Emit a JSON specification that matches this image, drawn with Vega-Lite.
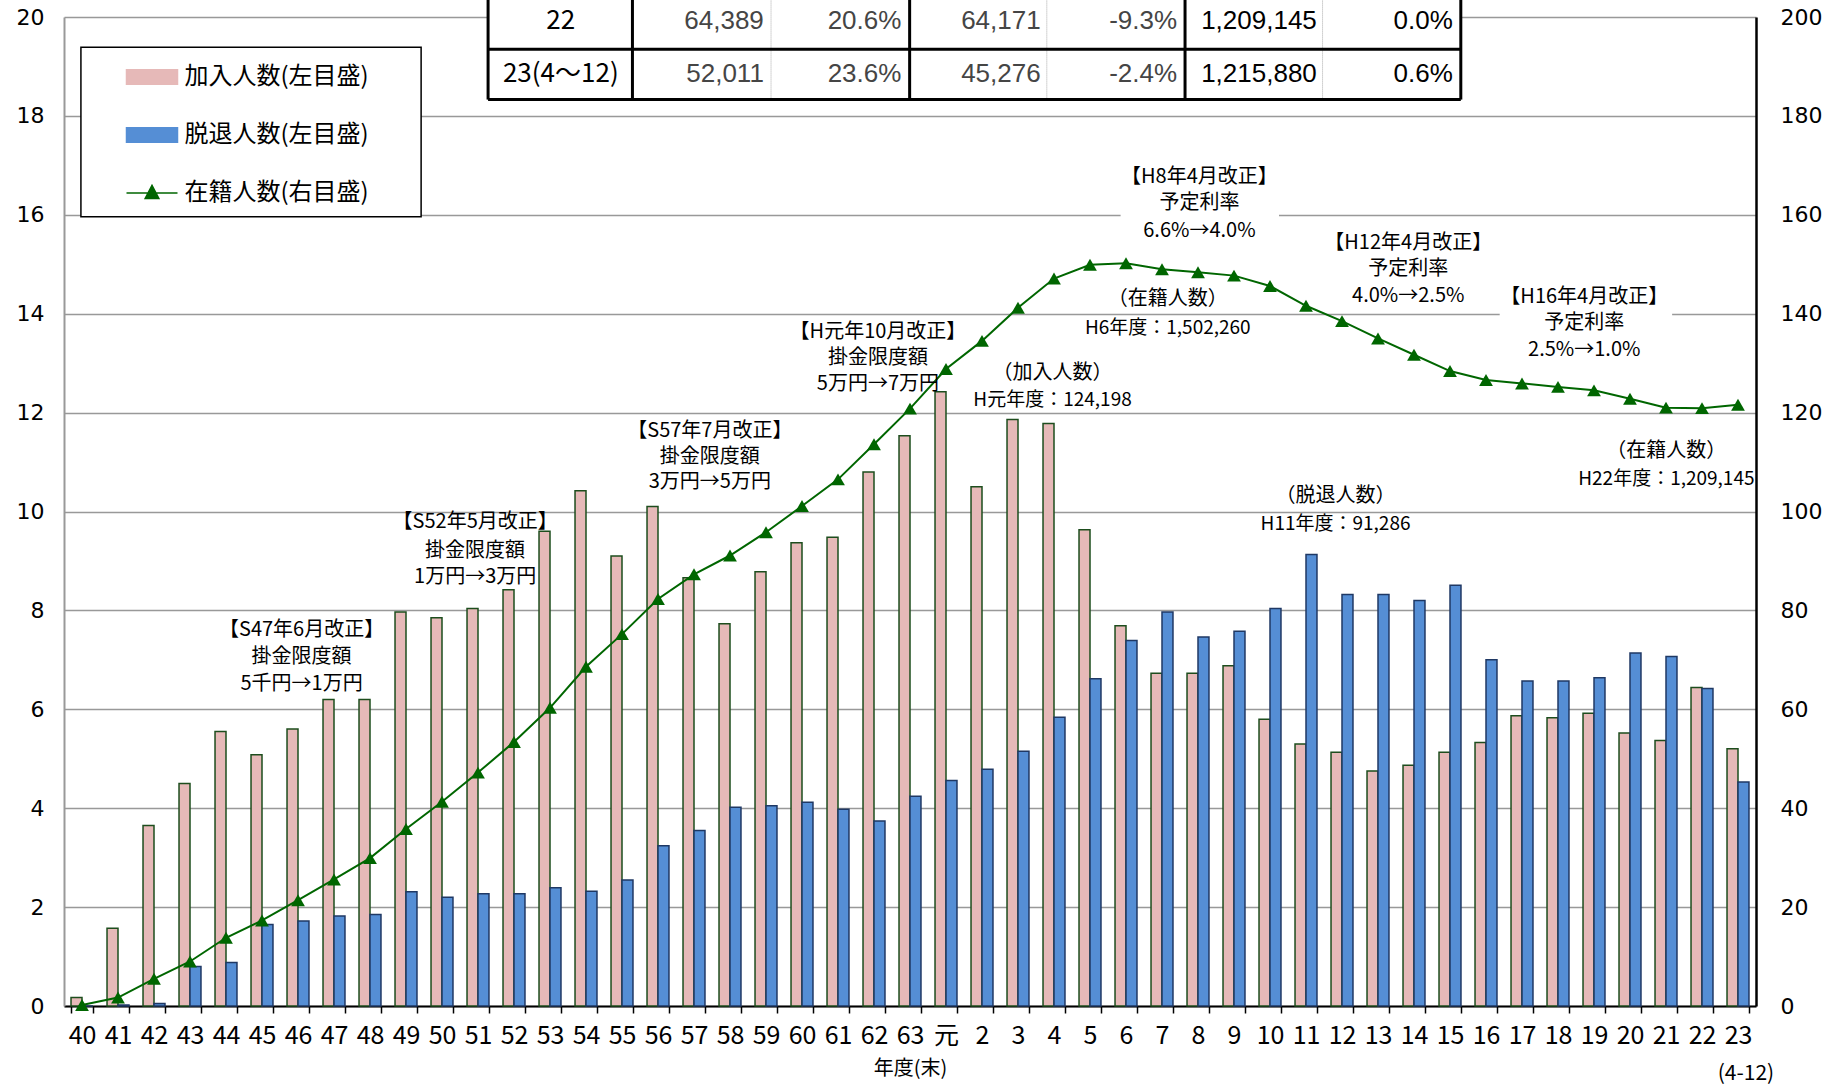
{
 "$schema": "https://vega.github.io/schema/vega-lite/v6.json",
 "width": 1692,
 "height": 989,
 "autosize": {"type": "none"},
 "padding": {"left": 64, "top": 17, "right": 84, "bottom": 80},
 "background": "white",
 "config": {"view": {"stroke": null}, "axis": {"labelFlush": false, "labelOverlap": false}},
 "datasets": {
  "flows": [
   {"year":"40","series":"加入人数(左目盛)","value":0.17},{"year":"41","series":"加入人数(左目盛)","value":1.57},{"year":"42","series":"加入人数(左目盛)","value":3.65},{"year":"43","series":"加入人数(左目盛)","value":4.50},{"year":"44","series":"加入人数(左目盛)","value":5.55},{"year":"45","series":"加入人数(左目盛)","value":5.08},{"year":"46","series":"加入人数(左目盛)","value":5.60},{"year":"47","series":"加入人数(左目盛)","value":6.20},{"year":"48","series":"加入人数(左目盛)","value":6.20},{"year":"49","series":"加入人数(左目盛)","value":7.97},{"year":"50","series":"加入人数(左目盛)","value":7.85},{"year":"51","series":"加入人数(左目盛)","value":8.04},{"year":"52","series":"加入人数(左目盛)","value":8.42},{"year":"53","series":"加入人数(左目盛)","value":9.60},{"year":"54","series":"加入人数(左目盛)","value":10.42},{"year":"55","series":"加入人数(左目盛)","value":9.10},{"year":"56","series":"加入人数(左目盛)","value":10.10},{"year":"57","series":"加入人数(左目盛)","value":8.66},{"year":"58","series":"加入人数(左目盛)","value":7.73},{"year":"59","series":"加入人数(左目盛)","value":8.78},{"year":"60","series":"加入人数(左目盛)","value":9.37},{"year":"61","series":"加入人数(左目盛)","value":9.48},{"year":"62","series":"加入人数(左目盛)","value":10.80},{"year":"63","series":"加入人数(左目盛)","value":11.53},{"year":"元","series":"加入人数(左目盛)","value":12.42},{"year":"2","series":"加入人数(左目盛)","value":10.50},{"year":"3","series":"加入人数(左目盛)","value":11.86},{"year":"4","series":"加入人数(左目盛)","value":11.78},{"year":"5","series":"加入人数(左目盛)","value":9.63},{"year":"6","series":"加入人数(左目盛)","value":7.69},{"year":"7","series":"加入人数(左目盛)","value":6.73},{"year":"8","series":"加入人数(左目盛)","value":6.73},{"year":"9","series":"加入人数(左目盛)","value":6.88},{"year":"10","series":"加入人数(左目盛)","value":5.80},{"year":"11","series":"加入人数(左目盛)","value":5.30},{"year":"12","series":"加入人数(左目盛)","value":5.13},{"year":"13","series":"加入人数(左目盛)","value":4.75},{"year":"14","series":"加入人数(左目盛)","value":4.87},{"year":"15","series":"加入人数(左目盛)","value":5.13},{"year":"16","series":"加入人数(左目盛)","value":5.33},{"year":"17","series":"加入人数(左目盛)","value":5.87},{"year":"18","series":"加入人数(左目盛)","value":5.83},{"year":"19","series":"加入人数(左目盛)","value":5.92},{"year":"20","series":"加入人数(左目盛)","value":5.52},{"year":"21","series":"加入人数(左目盛)","value":5.37},{"year":"22","series":"加入人数(左目盛)","value":6.44},{"year":"23","series":"加入人数(左目盛)","value":5.20},
   {"year":"40","series":"脱退人数(左目盛)","value":0},{"year":"41","series":"脱退人数(左目盛)","value":0.02},{"year":"42","series":"脱退人数(左目盛)","value":0.05},{"year":"43","series":"脱退人数(左目盛)","value":0.80},{"year":"44","series":"脱退人数(左目盛)","value":0.88},{"year":"45","series":"脱退人数(左目盛)","value":1.65},{"year":"46","series":"脱退人数(左目盛)","value":1.72},{"year":"47","series":"脱退人数(左目盛)","value":1.82},{"year":"48","series":"脱退人数(左目盛)","value":1.85},{"year":"49","series":"脱退人数(左目盛)","value":2.31},{"year":"50","series":"脱退人数(左目盛)","value":2.20},{"year":"51","series":"脱退人数(左目盛)","value":2.27},{"year":"52","series":"脱退人数(左目盛)","value":2.27},{"year":"53","series":"脱退人数(左目盛)","value":2.39},{"year":"54","series":"脱退人数(左目盛)","value":2.32},{"year":"55","series":"脱退人数(左目盛)","value":2.55},{"year":"56","series":"脱退人数(左目盛)","value":3.24},{"year":"57","series":"脱退人数(左目盛)","value":3.55},{"year":"58","series":"脱退人数(左目盛)","value":4.02},{"year":"59","series":"脱退人数(左目盛)","value":4.05},{"year":"60","series":"脱退人数(左目盛)","value":4.12},{"year":"61","series":"脱退人数(左目盛)","value":3.98},{"year":"62","series":"脱退人数(左目盛)","value":3.74},{"year":"63","series":"脱退人数(左目盛)","value":4.24},{"year":"元","series":"脱退人数(左目盛)","value":4.56},{"year":"2","series":"脱退人数(左目盛)","value":4.79},{"year":"3","series":"脱退人数(左目盛)","value":5.15},{"year":"4","series":"脱退人数(左目盛)","value":5.84},{"year":"5","series":"脱退人数(左目盛)","value":6.62},{"year":"6","series":"脱退人数(左目盛)","value":7.39},{"year":"7","series":"脱退人数(左目盛)","value":7.97},{"year":"8","series":"脱退人数(左目盛)","value":7.46},{"year":"9","series":"脱退人数(左目盛)","value":7.58},{"year":"10","series":"脱退人数(左目盛)","value":8.04},{"year":"11","series":"脱退人数(左目盛)","value":9.13},{"year":"12","series":"脱退人数(左目盛)","value":8.32},{"year":"13","series":"脱退人数(左目盛)","value":8.32},{"year":"14","series":"脱退人数(左目盛)","value":8.20},{"year":"15","series":"脱退人数(左目盛)","value":8.51},{"year":"16","series":"脱退人数(左目盛)","value":7.00},{"year":"17","series":"脱退人数(左目盛)","value":6.57},{"year":"18","series":"脱退人数(左目盛)","value":6.57},{"year":"19","series":"脱退人数(左目盛)","value":6.64},{"year":"20","series":"脱退人数(左目盛)","value":7.14},{"year":"21","series":"脱退人数(左目盛)","value":7.07},{"year":"22","series":"脱退人数(左目盛)","value":6.42},{"year":"23","series":"脱退人数(左目盛)","value":4.53}
  ],
  "stock": [
   {"year":"40","series":"在籍人数(右目盛)","value":0.2},{"year":"41","series":"在籍人数(右目盛)","value":1.7},{"year":"42","series":"在籍人数(右目盛)","value":5.5},{"year":"43","series":"在籍人数(右目盛)","value":9.0},{"year":"44","series":"在籍人数(右目盛)","value":13.8},{"year":"45","series":"在籍人数(右目盛)","value":17.3},{"year":"46","series":"在籍人数(右目盛)","value":21.4},{"year":"47","series":"在籍人数(右目盛)","value":25.6},{"year":"48","series":"在籍人数(右目盛)","value":29.9},{"year":"49","series":"在籍人数(右目盛)","value":35.8},{"year":"50","series":"在籍人数(右目盛)","value":41.3},{"year":"51","series":"在籍人数(右目盛)","value":47.2},{"year":"52","series":"在籍人数(右目盛)","value":53.4},{"year":"53","series":"在籍人数(右目盛)","value":60.3},{"year":"54","series":"在籍人数(右目盛)","value":68.6},{"year":"55","series":"在籍人数(右目盛)","value":75.2},{"year":"56","series":"在籍人数(右目盛)","value":82.3},{"year":"57","series":"在籍人数(右目盛)","value":87.3},{"year":"58","series":"在籍人数(右目盛)","value":91.1},{"year":"59","series":"在籍人数(右目盛)","value":95.8},{"year":"60","series":"在籍人数(右目盛)","value":101.1},{"year":"61","series":"在籍人数(右目盛)","value":106.5},{"year":"62","series":"在籍人数(右目盛)","value":113.6},{"year":"63","series":"在籍人数(右目盛)","value":120.8},{"year":"元","series":"在籍人数(右目盛)","value":128.8},{"year":"2","series":"在籍人数(右目盛)","value":134.5},{"year":"3","series":"在籍人数(右目盛)","value":141.2},{"year":"4","series":"在籍人数(右目盛)","value":147.1},{"year":"5","series":"在籍人数(右目盛)","value":149.9},{"year":"6","series":"在籍人数(右目盛)","value":150.2},{"year":"7","series":"在籍人数(右目盛)","value":149.0},{"year":"8","series":"在籍人数(右目盛)","value":148.4},{"year":"9","series":"在籍人数(右目盛)","value":147.7},{"year":"10","series":"在籍人数(右目盛)","value":145.6},{"year":"11","series":"在籍人数(右目盛)","value":141.6},{"year":"12","series":"在籍人数(右目盛)","value":138.5},{"year":"13","series":"在籍人数(右目盛)","value":135.0},{"year":"14","series":"在籍人数(右目盛)","value":131.7},{"year":"15","series":"在籍人数(右目盛)","value":128.4},{"year":"16","series":"在籍人数(右目盛)","value":126.6},{"year":"17","series":"在籍人数(右目盛)","value":125.9},{"year":"18","series":"在籍人数(右目盛)","value":125.2},{"year":"19","series":"在籍人数(右目盛)","value":124.5},{"year":"20","series":"在籍人数(右目盛)","value":122.8},{"year":"21","series":"在籍人数(右目盛)","value":121.0},{"year":"22","series":"在籍人数(右目盛)","value":120.9},{"year":"23","series":"在籍人数(右目盛)","value":121.6}
  ],
  "boxes": [
   {"px":11.78,"px2":38.8,"py":20.8,"py2":18.33},
   {"px":29.35,"px2":33.75,"py":17.02,"py2":15.43},
   {"px":39.88,"px2":44.67,"py":14.6,"py2":12.98}
  ],
  "legendbox": [{"px":0.47,"px2":9.92,"py":19.39,"py2":15.96}],
  "tlines": [
   {"line":"major","px":11.78,"px2":11.78,"py":20.8,"py2":18.33},
   {"line":"major","px":15.79,"px2":15.79,"py":20.8,"py2":18.33},
   {"line":"major","px":23.49,"px2":23.49,"py":20.8,"py2":18.33},
   {"line":"major","px":31.14,"px2":31.14,"py":20.8,"py2":18.33},
   {"line":"major","px":38.8,"px2":38.8,"py":20.8,"py2":18.33},
   {"line":"major","px":11.78,"px2":38.8,"py":19.35,"py2":19.35},
   {"line":"major","px":11.78,"px2":38.8,"py":18.33,"py2":18.33},
   {"line":"minor","px":19.64,"px2":19.64,"py":20.8,"py2":18.33},
   {"line":"minor","px":27.3,"px2":27.3,"py":20.8,"py2":18.33},
   {"line":"minor","px":34.96,"px2":34.96,"py":20.8,"py2":18.33}
  ],
  "ttext": [
   {"t":"22","col":1,"px":13.8,"py":19.92},
   {"t":"64,389","col":2,"px":19.44,"py":19.92},
   {"t":"20.6%","col":3,"px":23.26,"py":19.92},
   {"t":"64,171","col":4,"px":27.13,"py":19.92},
   {"t":"-9.3%","col":5,"px":30.92,"py":19.92},
   {"t":"1,209,145","col":6,"px":34.8,"py":19.92},
   {"t":"0.0%","col":7,"px":38.58,"py":19.92},
   {"t":"23(4～12)","col":1,"px":13.8,"py":18.85},
   {"t":"52,011","col":2,"px":19.44,"py":18.85},
   {"t":"23.6%","col":3,"px":23.26,"py":18.85},
   {"t":"45,276","col":4,"px":27.13,"py":18.85},
   {"t":"-2.4%","col":5,"px":30.92,"py":18.85},
   {"t":"1,215,880","col":6,"px":34.8,"py":18.85},
   {"t":"0.6%","col":7,"px":38.58,"py":18.85}
  ],
  "ann": [
   {"t":"【S47年6月改正】","px":6.60,"py":7.60},
   {"t":"掛金限度額","px":6.60,"py":7.05},
   {"t":"5千円→1万円","px":6.60,"py":6.51},
   {"t":"【S52年5月改正】","px":11.42,"py":9.78},
   {"t":"掛金限度額","px":11.42,"py":9.21},
   {"t":"1万円→3万円","px":11.42,"py":8.67},
   {"t":"【S57年7月改正】","px":17.94,"py":11.63},
   {"t":"掛金限度額","px":17.94,"py":11.11},
   {"t":"3万円→5万円","px":17.94,"py":10.59},
   {"t":"【H元年10月改正】","px":22.61,"py":13.63},
   {"t":"掛金限度額","px":22.61,"py":13.11},
   {"t":"5万円→7万円","px":22.61,"py":12.58},
   {"t":"（加入人数）","px":27.46,"py":12.80},
   {"t":"H元年度：124,198","px":27.46,"py":12.25},
   {"t":"（在籍人数）","px":30.66,"py":14.29},
   {"t":"H6年度：1,502,260","px":30.66,"py":13.72},
   {"t":"【H8年4月改正】","px":31.54,"py":16.76},
   {"t":"予定利率","px":31.54,"py":16.24},
   {"t":"6.6%→4.0%","px":31.54,"py":15.67},
   {"t":"【H12年4月改正】","px":37.34,"py":15.43},
   {"t":"予定利率","px":37.34,"py":14.91},
   {"t":"4.0%→2.5%","px":37.34,"py":14.36},
   {"t":"【H16年4月改正】","px":42.23,"py":14.34},
   {"t":"予定利率","px":42.23,"py":13.82},
   {"t":"2.5%→1.0%","px":42.23,"py":13.27},
   {"t":"（脱退人数）","px":35.32,"py":10.31},
   {"t":"H11年度：91,286","px":35.32,"py":9.74},
   {"t":"（在籍人数）","px":44.51,"py":11.23},
   {"t":"H22年度：1,209,145","px":44.51,"py":10.66}
  ],
  "note": [{"t":"(4-12)","px":46.72,"py":-1.375}]
 },
 "layer": [
  {
   "layer": [
    {
     "data": {"name": "flows"},
     "mark": {"type": "bar", "strokeWidth": 1.5},
     "encoding": {
      "x": {
       "field": "year", "type": "nominal",
       "scale": {"domain": ["40","41","42","43","44","45","46","47","48","49","50","51","52","53","54","55","56","57","58","59","60","61","62","63","元","2","3","4","5","6","7","8","9","10","11","12","13","14","15","16","17","18","19","20","21","22","23"], "paddingInner": 0.39, "paddingOuter": 0.195},
       "axis": {"title": "年度(末)", "titleFont": "Noto Sans CJK JP", "titleFontSize": 20, "titleFontWeight": "normal", "titleColor": "#000", "titlePadding": 10, "labelFont": "Liberation Sans Narrow, Arial Narrow, Noto Sans CJK JP, sans-serif", "labelFontSize": 25, "labelColor": "#000", "labelAngle": 0, "labelPadding": 10, "tickBand": "extent", "tickColor": "#000", "tickSize": 7, "tickWidth": 1.5, "domainColor": "#000", "domainWidth": 2, "grid": false}
      },
      "xOffset": {"field": "series", "type": "nominal", "scale": {"domain": ["加入人数(左目盛)", "脱退人数(左目盛)"], "paddingInner": 0, "paddingOuter": 0}},
      "y": {
       "field": "value", "type": "quantitative",
       "scale": {"domain": [0, 20], "nice": false, "zero": true},
       "axis": {"orient": "left", "title": null, "values": [0,2,4,6,8,10,12,14,16,18,20], "grid": true, "gridColor": "#999", "gridWidth": 1.5, "domainColor": "#999", "domainWidth": 2, "ticks": false, "labelPadding": 20, "labelFont": "DejaVu Sans", "labelFontSize": 22, "labelColor": "#000"}
      },
      "color": {
       "field": "series", "type": "nominal",
       "scale": {"domain": ["加入人数(左目盛)", "脱退人数(左目盛)", "在籍人数(右目盛)"], "range": ["#E6B9B8", "#558ED5", "#006600"]},
       "legend": {
        "title": null, "orient": "none", "legendX": 61.5, "legendY": 33.5, "padding": 0, "rowPadding": 19,
        "symbolSize": 2601, "symbolStrokeWidth": 1.5, "labelOffset": 6, "labelFont": "Noto Sans CJK JP", "labelFontSize": 24, "labelColor": "#000", "labelLimit": 400,
        "encode": {"symbols": {"update": {
         "shape": {"signal": "datum.value === '在籍人数(右目盛)' ? 'M-1,0H1M-0.27,0.22L0,-0.3L0.27,0.22Z' : 'M-1,-0.28H1V0.28H-1Z'"},
         "fill": {"signal": "datum.value === '加入人数(左目盛)' ? '#E6B9B8' : datum.value === '脱退人数(左目盛)' ? '#558ED5' : '#006600'"},
         "stroke": {"signal": "datum.value === '加入人数(左目盛)' ? '#1D4D1D' : datum.value === '脱退人数(左目盛)' ? '#1F3864' : '#006600'"},
         "strokeWidth": {"value": 1.5},
         "opacity": {"value": 1}
        }}}
       }
      },
      "stroke": {"field": "series", "type": "nominal", "scale": {"domain": ["加入人数(左目盛)", "脱退人数(左目盛)"], "range": ["#1D4D1D", "#1F3864"]}, "legend": null}
     }
    },
    {
     "data": {"name": "stock"},
     "mark": {"type": "line", "strokeWidth": 2, "point": {"shape": "triangle-up", "size": 190, "filled": true}},
     "encoding": {
      "x": {"field": "year", "type": "nominal"},
      "y": {
       "field": "value", "type": "quantitative",
       "scale": {"domain": [0, 200], "nice": false},
       "axis": {"orient": "right", "title": null, "values": [0,20,40,60,80,100,120,140,160,180,200], "grid": false, "domainColor": "#000", "domainWidth": 2.5, "ticks": false, "labelPadding": 24, "labelFont": "DejaVu Sans", "labelFontSize": 22, "labelColor": "#000"}
      },
      "color": {"field": "series", "type": "nominal"}
     }
    }
   ],
   "resolve": {"scale": {"y": "independent"}}
  },
  {
   "encoding": {
    "x": {"field": "px", "type": "quantitative", "scale": {"domain": [0, 47], "nice": false, "zero": false}, "axis": null},
    "y": {"field": "py", "type": "quantitative", "scale": {"domain": [0, 20], "nice": false, "zero": false}, "axis": null}
   },
   "layer": [
    {
     "data": {"name": "boxes"},
     "mark": {"type": "rect", "fill": "white", "strokeWidth": 0},
     "encoding": {"x2": {"field": "px2"}, "y2": {"field": "py2"}}
    },
    {
     "data": {"name": "legendbox"},
     "mark": {"type": "rect", "fill": "white", "stroke": "#000", "strokeWidth": 1.5},
     "encoding": {"x2": {"field": "px2"}, "y2": {"field": "py2"}}
    },
    {
     "data": {"name": "tlines"},
     "transform": [{"filter": "datum.line === 'minor'"}],
     "mark": {"type": "rule", "color": "#aaa", "strokeWidth": 1, "strokeDash": [1, 1]},
     "encoding": {"x2": {"field": "px2"}, "y2": {"field": "py2"}}
    },
    {
     "data": {"name": "tlines"},
     "transform": [{"filter": "datum.line === 'major'"}],
     "mark": {"type": "rule", "color": "#000", "strokeWidth": 3},
     "encoding": {"x2": {"field": "px2"}, "y2": {"field": "py2"}}
    },
    {
     "data": {"name": "ttext"},
     "transform": [{"filter": "datum.col === 1"}],
     "mark": {"type": "text", "font": "Liberation Sans Narrow, Arial Narrow, Noto Sans CJK JP, sans-serif", "fontSize": 26, "align": "center", "baseline": "middle", "color": "#000"},
     "encoding": {"text": {"field": "t", "type": "nominal"}}
    },
    {
     "data": {"name": "ttext"},
     "transform": [{"filter": "datum.col > 1"}],
     "mark": {"type": "text", "font": "Liberation Sans Narrow, Arial Narrow, sans-serif", "fontSize": 26, "align": "right", "baseline": "middle"},
     "encoding": {
      "text": {"field": "t", "type": "nominal"},
      "color": {"condition": {"test": "datum.col >= 6", "value": "#000"}, "value": "#454545"}
     }
    },
    {
     "data": {"name": "ann"},
     "mark": {"type": "text", "font": "Noto Sans CJK JP", "align": "center", "baseline": "middle", "color": "#000"},
     "encoding": {
      "text": {"field": "t", "type": "nominal"},
      "size": {"condition": {"test": "indexof(datum.t, '年度') >= 0", "value": 19}, "value": 20}
     }
    },
    {
     "data": {"name": "note"},
     "mark": {"type": "text", "font": "Noto Sans CJK JP", "fontSize": 21, "align": "center", "baseline": "middle", "color": "#000"},
     "encoding": {"text": {"field": "t", "type": "nominal"}}
    }
   ]
  }
 ],
 "resolve": {"scale": {"x": "independent", "y": "independent"}}
}
